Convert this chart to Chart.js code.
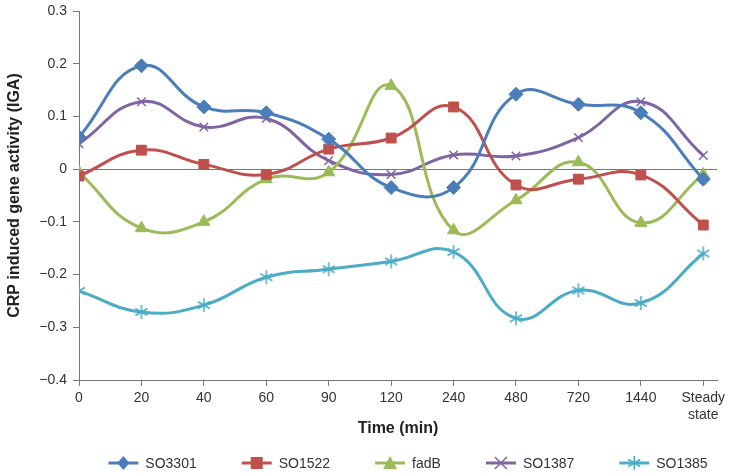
<!DOCTYPE html>
<html>
<head>
<meta charset="utf-8">
<script src="https://cdn.jsdelivr.net/npm/chart.js@4.4.0/dist/chart.umd.min.js"></script>
<style>
  html, body { margin: 0; padding: 0; background: #fff; }
  #wrap { width: 732px; height: 476px; }
</style>
</head>
<body>
<div id="wrap"><canvas id="chart" width="732" height="476"></canvas></div>
<script>
// Time points (x categories)
const timeLabels = ['0', '20', '40', '60', '90', '120', '240', '480', '720', '1440', ['Steady', 'state']];

// Series values
const so3301 = [0.061, 0.196, 0.118, 0.107, 0.057, -0.035, -0.035, 0.142, 0.123, 0.107, -0.019];
const so1522 = [-0.013, 0.036, 0.009, -0.010, 0.038, 0.059, 0.118, -0.030, -0.019, -0.011, -0.106];
const fadB = [-0.006, -0.112, -0.100, -0.019, -0.006, 0.158, -0.116, -0.059, 0.013, -0.102, -0.010];
const so1387 = [0.048, 0.128, 0.080, 0.096, 0.016, -0.010, 0.027, 0.025, 0.060, 0.128, 0.026];
const so1385 = [-0.231, -0.271, -0.258, -0.205, -0.190, -0.175, -0.157, -0.283, -0.230, -0.254, -0.160];

const yTicks = [0.3, 0.2, 0.1, 0, -0.1, -0.2, -0.3, -0.4];

const FONT = "'Liberation Sans', Arial, sans-serif";

// asterisk marker (Excel "star")
function starMarker(color, r) {
    const c = document.createElement('canvas');
    const s = r * 2 + 4;
    c.width = s; c.height = s;
    const g = c.getContext('2d');
    g.strokeStyle = color;
    g.lineWidth = 1.5;
    const m = s / 2;
    g.beginPath();
    g.moveTo(m, m - r); g.lineTo(m, m + r);
    const d = r * Math.cos(Math.PI / 6), e = r * Math.sin(Math.PI / 6);
    g.moveTo(m - d, m - e); g.lineTo(m + d, m + e);
    g.moveTo(m - d, m + e); g.lineTo(m + d, m - e);
    g.stroke();
    return c;
}

// legend symbol: line with marker on it
function drawSymbol(g, x, y, color, style) {
    g.save();
    g.strokeStyle = color;
    g.fillStyle = color;
    g.lineWidth = 3;
    g.beginPath(); g.moveTo(x - 15, y); g.lineTo(x + 15, y); g.stroke();
    g.beginPath();
    if (style === 'rectRot') {
        g.moveTo(x, y - 7); g.lineTo(x + 6, y); g.lineTo(x, y + 7); g.lineTo(x - 6, y); g.closePath(); g.fill();
    } else if (style === 'rect') {
        g.fillRect(x - 6, y - 6, 12, 12);
    } else if (style === 'triangle') {
        g.moveTo(x, y - 7); g.lineTo(x + 7, y + 6); g.lineTo(x - 7, y + 6); g.closePath(); g.fill();
    } else if (style === 'crossRot') {
        g.lineWidth = 1.5;
        g.moveTo(x - 6, y - 6); g.lineTo(x + 6, y + 6);
        g.moveTo(x - 6, y + 6); g.lineTo(x + 6, y - 6); g.stroke();
    } else {
        g.lineWidth = 1.5;
        g.moveTo(x, y - 7); g.lineTo(x, y + 7);
        g.moveTo(x - 6, y - 3.5); g.lineTo(x + 6, y + 3.5);
        g.moveTo(x - 6, y + 3.5); g.lineTo(x + 6, y - 3.5); g.stroke();
    }
    g.restore();
}

function toPoints(arr) {
    return arr.map((v, i) => ({ x: i, y: v }));
}

const seriesDefs = [
    { label: 'SO3301', data: so3301, color: '#4a7ebb', style: 'rectRot', radius: 7 },
    { label: 'SO1522', data: so1522, color: '#c0504d', style: 'rect', radius: 7 },
    { label: 'fadB', data: fadB, color: '#9bbb59', style: 'triangle', radius: 7 },
    { label: 'SO1387', data: so1387, color: '#8064a2', style: 'crossRot', radius: 6 },
    { label: 'SO1385', data: so1385, color: '#4bacc6', style: 'star', radius: 7 }
];

const datasets = seriesDefs.map(s => ({
    label: s.label,
    data: toPoints(s.data),
    borderColor: s.color,
    backgroundColor: s.color,
    borderWidth: 3,
    pointStyle: s.style === 'star' ? starMarker(s.color, 7) : s.style,
    pointRadius: s.radius,
    pointBorderWidth: s.style === 'crossRot' ? 1.5 : 1,
    pointBorderColor: s.color,
    pointBackgroundColor: s.color,
    tension: 0.45,
    markerStyle: s.style
}));

// Excel-like legend: line + marker, text beside
const bottomLegend = {
    id: 'bottomLegend',
    afterDraw(chart) {
        const g = chart.ctx;
        g.save();
        g.font = '14px ' + FONT;
        g.textBaseline = 'middle';
        g.fillStyle = '#333';
        const y = 463;
        const symW = 30, gapText = 7, gapItem = 45;
        const items = chart.data.datasets.map(ds => ({ ds, w: g.measureText(ds.label).width }));
        const total = items.reduce((a, it) => a + symW + gapText + it.w, 0) + gapItem * (items.length - 1);
        let x = 408 - total / 2;
        items.forEach(it => {
            drawSymbol(g, x + symW / 2, y, it.ds.borderColor, it.ds.markerStyle);
            g.fillStyle = '#333';
            g.fillText(it.ds.label, x + symW + gapText, y + 1);
            x += symW + gapText + it.w + gapItem;
        });
        g.restore();
    }
};

new Chart(document.getElementById('chart'), {
    type: 'line',
    data: { datasets },
    plugins: [bottomLegend],
    options: {
        responsive: false,
        animation: false,
        layout: { padding: { left: 5, right: 15, top: 11, bottom: 38 } },
        plugins: {
            tooltip: { enabled: false },
            legend: { display: false }
        },
        scales: {
            x: {
                type: 'linear',
                min: 0,
                max: 10.22,
                afterBuildTicks: scale => {
                    scale.ticks = timeLabels.map((_, i) => ({ value: i }));
                },
                afterFit: scale => { scale.height = 58; },
                ticks: {
                    color: '#333',
                    font: { family: FONT, size: 14 },
                    padding: 4,
                    maxRotation: 0,
                    autoSkip: false,
                    callback: (v, i) => timeLabels[i]
                },
                grid: { drawOnChartArea: false, tickLength: 6, color: '#777', lineWidth: 1 },
                border: { color: '#777', width: 1 },
                title: {
                    display: true,
                    text: 'Time (min)',
                    color: '#222',
                    font: { family: FONT, size: 16, weight: 'bold' },
                    padding: { top: -6, bottom: 0 }
                }
            },
            y: {
                min: -0.4,
                max: 0.3,
                afterBuildTicks: scale => {
                    scale.ticks = yTicks.map(v => ({ value: v }));
                },
                afterFit: scale => { scale.width = 74; scale.paddingTop = 0; scale.paddingBottom = 0; },
                ticks: {
                    color: '#333',
                    font: { family: FONT, size: 14 },
                    padding: 6,
                    callback: v => {
                        const r = Math.round(v * 10) / 10;
                        return r < 0 ? '\u2212' + Math.abs(r) : String(r);
                    }
                },
                grid: {
                    tickLength: 6,
                    tickColor: '#777',
                    color: ctx => (ctx.tick && Math.abs(ctx.tick.value) < 1e-9) ? '#777' : 'rgba(0,0,0,0)',
                    lineWidth: 1
                },
                border: { color: '#777', width: 1 },
                title: {
                    display: true,
                    text: 'CRP induced gene activity (IGA)',
                    color: '#222',
                    font: { family: FONT, size: 16, weight: 'bold' },
                    padding: { top: 0, bottom: 4 }
                }
            }
        }
    }
});
</script>
</body>
</html>
